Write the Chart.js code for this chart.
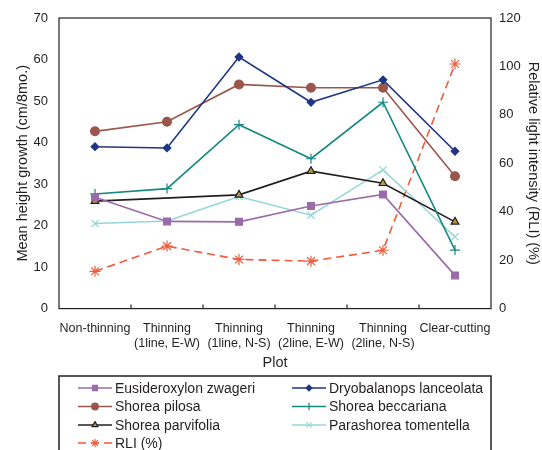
<!DOCTYPE html>
<html>
<head>
<meta charset="utf-8">
<script src="https://cdn.jsdelivr.net/npm/chart.js@4/dist/chart.umd.min.js"></script>
<style>
  body { margin: 0; background: #fff; }
  #wrap { width: 542px; height: 450px; }
</style>
</head>
<body>
<div id="wrap"><canvas id="chart" width="542" height="450"></canvas></div>
<script>
// plots (x axis)
const plots = [
    'Non-thinning',
    ['Thinning', '(1line, E-W)'],
    ['Thinning', '(1line, N-S)'],
    ['Thinning', '(2line, E-W)'],
    ['Thinning', '(2line, N-S)'],
    'Clear-cutting'
];

// mean height growth (cm/8mo.)
const eusideroxylon = [26.8, 21.0, 20.9, 24.7, 27.5, 8.0];
const dryobalanops = [39.0, 38.7, 60.6, 49.7, 55.1, 37.9];
const shoreaPilosa = [42.7, 45.0, 54.0, 53.2, 53.2, 31.9];
const shoreaBeccariana = [27.6, 28.9, 44.3, 36.1, 49.7, 14.1];
const shoreaParvifolia = [25.9, null, 27.4, 33.1, 30.2, 20.9];
const parashorea = [20.5, 21.1, 27.0, 22.5, 33.4, 17.3];

// relative light intensity (%)
const rli = [15.4, 25.8, 20.3, 19.6, 24.1, 101];

const leftTicks = [0, 10, 20, 30, 40, 50, 60, 70];
const rightTicks = [0, 20, 40, 60, 80, 100, 120];

const FONT = 'Liberation Sans, Arial, Helvetica, sans-serif';
const TXT = '#231f20';

function series(label, data, color, style, extra) {
    return Object.assign({
        label: label,
        data: data,
        borderColor: color,
        backgroundColor: color,
        borderWidth: 1.6,
        pointStyle: style,
        pointRadius: 4,
        pointBorderWidth: 1.2,
        pointBorderColor: color,
        pointBackgroundColor: color,
        tension: 0,
        yAxisID: 'y'
    }, extra || {});
}

const datasets = [
    series('Eusideroxylon zwageri', eusideroxylon, '#9b6aaa', 'rect', { pointRadius: 4.8 }),
    series('Dryobalanops lanceolata', dryobalanops, '#1f3585', 'rectRot', { pointRadius: 3.8 }),
    series('Shorea pilosa', shoreaPilosa, '#99564b', 'circle', { pointRadius: 4.4 }),
    series('Shorea beccariana', shoreaBeccariana, '#14897f', 'cross', { pointRadius: 5 }),
    series('Shorea parvifolia', shoreaParvifolia, '#231f20', 'triangle',
        { pointBackgroundColor: '#b59a3e', pointRadius: 4.5, spanGaps: true }),
    series('Parashorea tomentella', parashorea, '#95d6d8', 'crossRot', { pointRadius: 5 }),
    series('RLI (%)', rli, '#f15a3a', 'star',
        { yAxisID: 'y1', borderDash: [8, 5], pointRadius: 5.5 })
];

// frame, inner x ticks and legend box
const decorPlugin = {
    id: 'decor',
    afterDraw(chart) {
        const ctx = chart.ctx;
        const a = chart.chartArea;
        const xs = chart.scales.x;
        ctx.save();
        ctx.strokeStyle = '#231f20';
        ctx.lineWidth = 1.2;
        ctx.strokeRect(a.left, a.top, a.right - a.left, a.bottom - a.top);
        ctx.beginPath();
        for (let i = 1; i < plots.length; i++) {
            const px = (xs.getPixelForTick(i - 1) + xs.getPixelForTick(i)) / 2;
            ctx.moveTo(px, a.bottom);
            ctx.lineTo(px, a.bottom - 4);
        }
        ctx.stroke();

        // legend
        const boxTop = 376;
        ctx.lineWidth = 1.5;
        ctx.strokeRect(a.left, boxTop, a.right - a.left, 80);
        const cols = [78, 292];
        const rowY = [388, 406.5, 425, 443];
        ctx.font = '14px ' + FONT;
        ctx.textBaseline = 'middle';
        datasets.forEach((ds, i) => {
            const col = i % 2;
            const row = Math.floor(i / 2);
            const x0 = cols[col];
            const y = rowY[row];
            ctx.strokeStyle = ds.borderColor;
            ctx.lineWidth = 1.6;
            ctx.setLineDash(ds.borderDash || []);
            ctx.beginPath();
            ctx.moveTo(x0, y);
            ctx.lineTo(x0 + 34, y);
            ctx.stroke();
            ctx.setLineDash([]);
            ctx.fillStyle = ds.pointBackgroundColor;
            ctx.strokeStyle = ds.pointBorderColor;
            ctx.lineWidth = 1.2;
            Chart.helpers.drawPoint(ctx, {
                pointStyle: ds.pointStyle,
                radius: ds.pointRadius * 0.75,
                rotation: 0,
                borderWidth: 1.2
            }, x0 + 17, y);
            ctx.fillStyle = TXT;
            ctx.textAlign = 'left';
            ctx.fillText(ds.label, x0 + 37, y + 1);
        });
        ctx.restore();
    }
};

new Chart(document.getElementById('chart'), {
    type: 'line',
    data: { labels: plots, datasets: datasets },
    plugins: [decorPlugin],
    options: {
        responsive: false,
        animation: false,
        layout: { padding: { top: 18, bottom: 74, left: 14, right: 0 } },
        plugins: { legend: { display: false }, tooltip: { enabled: false } },
        scales: {
            x: {
                offset: true,
                grid: { display: false },
                border: { display: false },
                ticks: { color: TXT, font: { family: FONT, size: 12.5 }, maxRotation: 0, autoSkip: false, padding: 4 },
                title: { display: true, text: 'Plot', color: TXT, font: { family: FONT, size: 14.5 }, padding: { top: 0 } }
            },
            y: {
                position: 'left',
                min: 0, max: 70,
                afterBuildTicks: s => { s.ticks = leftTicks.map(v => ({ value: v })); },
                afterFit: s => { s.width = 45; },
                grid: { display: false },
                border: { display: false },
                ticks: { color: TXT, font: { family: FONT, size: 13 }, padding: 3 },
                title: { display: true, text: 'Mean height growth (cm/8mo.)', color: TXT, font: { family: FONT, size: 14.5 }, padding: 0 }
            },
            y1: {
                position: 'right',
                min: 0, max: 120,
                afterBuildTicks: s => { s.ticks = rightTicks.map(v => ({ value: v })); },
                afterFit: s => { s.width = 51; },
                grid: { display: false },
                border: { display: false },
                ticks: { color: TXT, font: { family: FONT, size: 13 }, padding: 0 },
                title: { display: true, text: 'Relative light intensity (RLI) (%)', color: TXT, font: { family: FONT, size: 14.5 }, padding: 0 }
            }
        }
    }
});
</script>
</body>
</html>
